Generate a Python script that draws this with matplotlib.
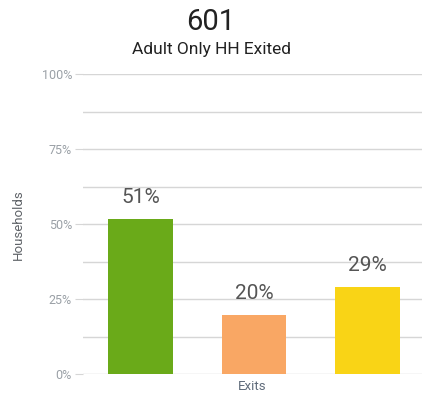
import matplotlib.pyplot as plt

plt.rcParams['font.family'] = ['Roboto', 'DejaVu Sans']

# data
series = ['Series A', 'Series B', 'Series C']
values = [51.7, 19.7, 29.0]
labels = ['51%', '20%', '29%']
colors = ['#6aaa19', '#f9a764', '#f9d416']
yticks = [0, 25, 50, 75, 100]
yticklabels = ['0%', '25%', '50%', '75%', '100%']
minor_ticks = [12.5, 37.5, 62.5, 87.5]

fig = plt.figure(figsize=(4.22, 4.0), dpi=100)
ax = fig.add_axes([0.1967, 0.064, 0.8033, 0.751])

xpos = [-1, 0, 1]
bars = ax.bar(xpos, values, width=0.568, color=colors, zorder=3)

for b, lab in zip(bars, labels):
    ax.annotate(lab, (b.get_x() + b.get_width() / 2, b.get_height()),
                xytext=(0, 9), textcoords='offset points',
                ha='center', va='bottom', fontsize=15, color='#555555')

ax.set_xlim(-1.507, 1.48)
ax.set_ylim(0, 100)
ax.set_yticks(yticks)
ax.set_yticklabels(yticklabels)
ax.set_yticks(minor_ticks, minor=True)
ax.tick_params(axis='y', which='major', length=6, color='#d6d6d6',
               labelsize=9, labelcolor='#9aa0a6', pad=2)
ax.tick_params(axis='y', which='minor', length=0)
ax.set_xticks([])
ax.grid(axis='y', which='both', color='#d6d6d6', linewidth=1, zorder=0)
for s in ax.spines.values():
    s.set_visible(False)

ax.set_ylabel('Households', fontsize=9.5, color='#5f6368', labelpad=12)
ax.set_xlabel('Exits', fontsize=9.5, color='#5f6b7a', labelpad=4)

fig.text(0.5, 0.944, '601', ha='center', va='center', fontsize=21, color='#222222')
fig.text(0.5, 0.877, 'Adult Only HH Exited', ha='center', va='center',
         fontsize=12.5, color='#222222')

fig.savefig('out.png', dpi=100)
